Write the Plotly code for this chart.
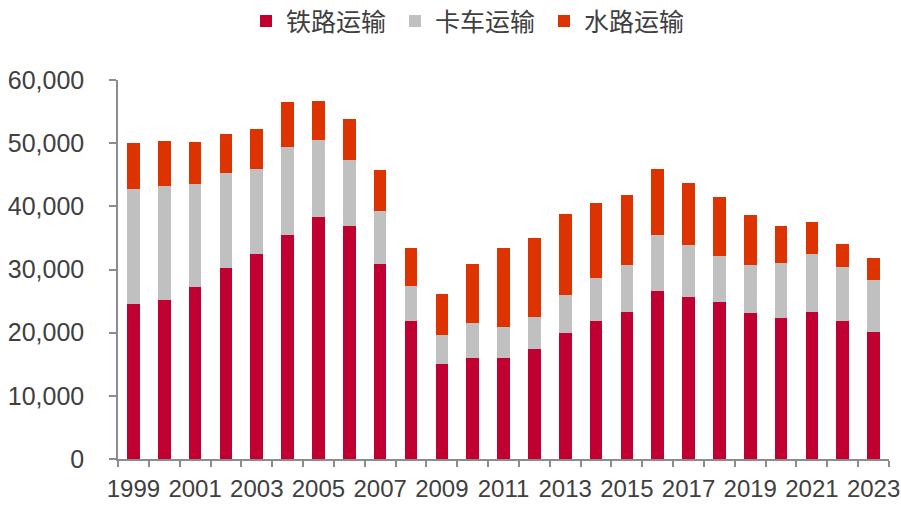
import plotly.graph_objects as go

years = list(range(1999, 2024))
rail = [24530, 25200, 27210, 30220, 32480, 35540, 38290, 36960, 30950, 21840,
        15080, 16030, 16030, 17400, 19930, 21840, 23260, 26520, 25680, 24840,
        23150, 22360, 23310, 21780, 20030]
truck = [18190, 18040, 16400, 15030, 13500, 13830, 12280, 10350, 8340, 5530,
         4590, 5430, 4860, 5120, 5960, 6800, 7480, 9020, 8180, 7280,
         7550, 8700, 9220, 8650, 8340]
water = [7280, 7080, 6640, 6170, 6280, 7120, 6170, 6490, 6440, 6020,
         6530, 9390, 12500, 12500, 12820, 11920, 11130, 10350, 9860, 9340,
         7910, 5850, 5020, 3590, 3480]
names = ["铁路运输", "卡车运输", "水路运输"]
colors = ["#C00030", "#C0C0C0", "#DD3300"]
ytick_vals = [0, 10000, 20000, 30000, 40000, 50000, 60000]
xtick_vals = list(range(1999, 2024, 2))

fig = go.Figure()
for name, vals, col in zip(names, [rail, truck, water], colors):
    fig.add_trace(go.Bar(x=years, y=vals, name=name, marker_color=col,
                         marker_line_width=0, width=0.41))

axis_col = "#8c8c8c"
tick_font = dict(family="Liberation Sans, Arial, sans-serif", size=24, color="#404040")

fig.update_layout(
    barmode="stack",
    width=901, height=507,
    margin=dict(l=118, r=12, t=80, b=48, autoexpand=False),
    paper_bgcolor="white", plot_bgcolor="white",
    showlegend=True,
    legend=dict(orientation="h", x=246 / 901, xanchor="left", xref="container",
                y=1.216, yanchor="top", yref="paper", traceorder="normal",
                font=dict(family="Noto Sans CJK SC", size=25, color="#404040"),
                itemwidth=30, entrywidth=104, itemclick=False),
    xaxis=dict(range=[1998.5, 2023.5], tickmode="array", tickvals=xtick_vals,
               ticktext=[str(v) for v in xtick_vals], ticks="",
               showline=True, linecolor=axis_col, linewidth=1.5,
               showgrid=False, zeroline=False, tickfont=tick_font,
               automargin=False, ticklabelstandoff=7,
               minor=dict(tickmode="array",
                          tickvals=[y - 0.5 for y in years] + [2023.5],
                          ticks="outside", ticklen=6, tickwidth=1.5,
                          tickcolor=axis_col, showgrid=False)),
    yaxis=dict(range=[0, 60000], tickmode="array", tickvals=ytick_vals,
               ticktext=[f"{v:,}" for v in ytick_vals], ticks="outside",
               ticklen=7, tickwidth=1.5, tickcolor=axis_col,
               showline=True, linecolor=axis_col, linewidth=1.5,
               showgrid=False, zeroline=False, tickfont=dict(tick_font, size=25),
               automargin=False, ticklabelstandoff=20),
)

fig.write_html("out.html",
               config={"displayModeBar": False},
               post_script="document.body.style.margin='0';document.body.style.overflow='hidden';")
